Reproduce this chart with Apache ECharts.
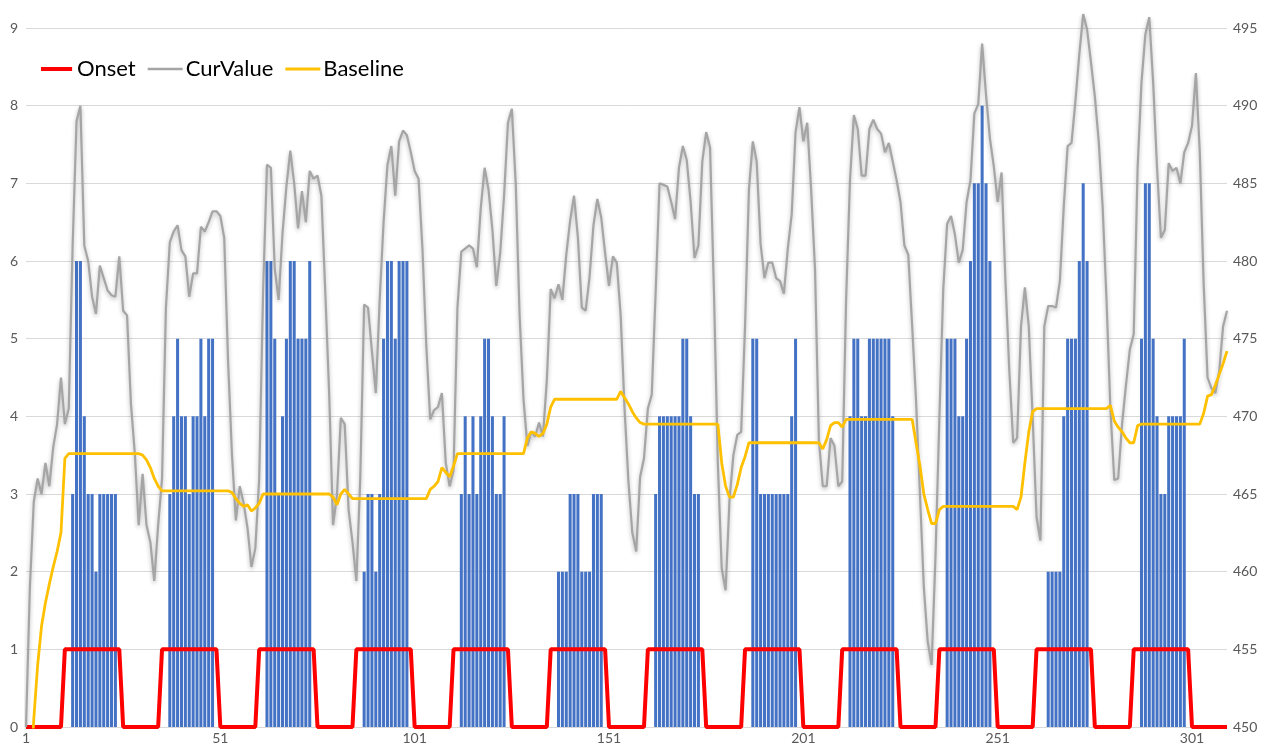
<!DOCTYPE html>
<html>
<head>
<meta charset="utf-8">
<script src="https://cdn.jsdelivr.net/npm/echarts@6/dist/echarts.min.js"></script>
<style>
  html, body { margin: 0; padding: 0; background: #ffffff; }
  #chart { width: 1271px; height: 745px; }
</style>
</head>
<body>
<div id="chart"></div>
<script>
// Sample index 1..310 along the horizontal axis
const days = Array.from({ length: 310 }, (_, i) => String(i + 1));

// Onset flag (left axis), one row per 25 samples
const onset = [
  0,0,0,0,0,0,0,0,0,0,1,1,1,1,1,1,1,1,1,1,1,1,1,1,1,
  0,0,0,0,0,0,0,0,0,0,1,1,1,1,1,1,1,1,1,1,1,1,1,1,1,
  0,0,0,0,0,0,0,0,0,0,1,1,1,1,1,1,1,1,1,1,1,1,1,1,1,
  0,0,0,0,0,0,0,0,0,0,1,1,1,1,1,1,1,1,1,1,1,1,1,1,1,
  0,0,0,0,0,0,0,0,0,0,1,1,1,1,1,1,1,1,1,1,1,1,1,1,1,
  0,0,0,0,0,0,0,0,0,0,1,1,1,1,1,1,1,1,1,1,1,1,1,1,1,
  0,0,0,0,0,0,0,0,0,0,1,1,1,1,1,1,1,1,1,1,1,1,1,1,1,
  0,0,0,0,0,0,0,0,0,0,1,1,1,1,1,1,1,1,1,1,1,1,1,1,1,
  0,0,0,0,0,0,0,0,0,0,1,1,1,1,1,1,1,1,1,1,1,1,1,1,1,
  0,0,0,0,0,0,0,0,0,0,1,1,1,1,1,1,1,1,1,1,1,1,1,1,1,
  0,0,0,0,0,0,0,0,0,0,1,1,1,1,1,1,1,1,1,1,1,1,1,1,1,
  0,0,0,0,0,0,0,0,0,0,1,1,1,1,1,1,1,1,1,1,1,1,1,1,1,
  0,0,0,0,0,0,0,0,0,0
];

// Event counts drawn as bars (left axis), one row per 25 samples
const counts = [
  0,0,0,0,0,0,0,0,0,0,0,0, 3,6,6,4,3,3,2,3,3,3,3,3, 0,
  0,0,0,0,0,0,0,0,0,0,0,0, 3,4,5,4,4,3,4,4,5,4,5,5, 0,
  0,0,0,0,0,0,0,0,0,0,0,0, 6,6,5,3,4,5,6,6,5,5,5,6, 0,
  0,0,0,0,0,0,0,0,0,0,0,0, 2,3,3,2,3,5,6,6,5,6,6,6, 0,
  0,0,0,0,0,0,0,0,0,0,0,0, 3,4,3,4,3,4,5,5,4,3,3,4, 0,
  0,0,0,0,0,0,0,0,0,0,0,0, 2,2,2,3,3,3,2,2,2,3,3,3, 0,
  0,0,0,0,0,0,0,0,0,0,0,0, 3,4,4,4,4,4,4,5,5,4,3,3, 0,
  0,0,0,0,0,0,0,0,0,0,0,0, 5,5,3,3,3,3,3,3,3,3,4,5, 0,
  0,0,0,0,0,0,0,0,0,0,0,0, 4,5,5,4,4,5,5,5,5,5,5,4, 0,
  0,0,0,0,0,0,0,0,0,0,0,0, 5,5,5,4,4,5,6,7,7,8,7,6, 0,
  0,0,0,0,0,0,0,0,0,0,0,0,0, 2,2,2,2,4,5,5,5,6,7,6, 0,
  0,0,0,0,0,0,0,0,0,0,0,0, 5,7,7,5,4,3,3,4,4,4,4,5, 0,
  0,0,0,0,0,0,0,0,0,0
];

// Current value (right axis), ten samples per row
const curValue = [
  450, 459, 464.5, 466, 465, 467, 465.5, 468, 469.5, 472.5,
  469.5, 470.5, 481, 489, 490, 481, 480, 477.7, 476.6, 479.7,
  478.9, 478.1, 477.8, 477.7, 480.3, 476.8, 476.5, 470.8, 467.6, 463,
  466.3, 463, 461.9, 459.4, 463, 466, 477, 481.2, 481.9, 482.3,
  480.7, 480.3, 477.7, 479.2, 479.2, 482.2, 481.9, 482.5, 483.2, 483.2,
  482.9, 481.5, 473.5, 467.5, 463.3, 465.5, 464.4, 462.8, 460.3, 461.5,
  466, 478, 486.2, 486, 479.5, 477.5, 481.8, 484.8, 487.1, 485,
  482.1, 484.5, 482.5, 485.8, 485.3, 485.5, 484.2, 478, 471.5, 463,
  464.9, 469.9, 469.5, 464, 461.9, 459.4, 466, 477.2, 477, 474.2,
  471.5, 477.5, 482.5, 486.2, 487.4, 484.2, 487.7, 488.4, 488.1, 487,
  485.8, 485.3, 480.8, 474.5, 469.8, 470.4, 470.6, 471.5, 467, 465.5,
  466.5, 477, 480.6, 480.8, 481, 480.8, 479.6, 483.4, 486, 484.6,
  482, 478.4, 480.5, 484.2, 488.9, 489.8, 485, 476.5, 471.1, 468.1,
  469, 468.7, 469.6, 468.7, 472.3, 478.2, 477.6, 478.5, 477.5, 480.4,
  482.6, 484.2, 481.5, 477, 476.8, 479, 482.3, 484, 482.8, 480.5,
  478.4, 480.3, 479.9, 476.5, 470.5, 465.8, 462.5, 461.3, 466.1, 467.3,
  470.5, 471.4, 478, 485, 484.9, 484.8, 483.8, 482.7, 486, 487.4,
  486.5, 483.8, 480.2, 481, 486.4, 488.3, 487.3, 478, 467, 460.2,
  458.8, 464.6, 467.5, 468.8, 469, 475.8, 484.6, 487.7, 486.4, 481.1,
  478.9, 479.9, 479.9, 478.9, 478.7, 477.9, 480.8, 483, 488.3, 489.9,
  487.7, 488.9, 484.6, 479.5, 468.5, 465.5, 465.5, 468.6, 468.1, 465.5,
  465.8, 477.5, 485.2, 489.4, 488.5, 485.5, 485.5, 488.5, 489.1, 488.5,
  488.2, 487, 487.6, 486.4, 485.2, 483.8, 481, 480.4, 475.8, 471,
  465, 459, 455.5, 454, 461, 469.9, 478.2, 482.4, 482.9, 481.7,
  479.9, 480.7, 483.8, 485.2, 489.5, 490.1, 494, 490.7, 487.9, 486.1,
  483.8, 485.7, 478.7, 472.9, 468.3, 468.6, 475.8, 478.3, 475.8, 469.9,
  463.5, 462, 475.8, 477.1, 477.1, 477, 478.7, 483.5, 487.4, 487.6,
  490.3, 493.3, 495.9, 494.9, 492.8, 490.6, 487.7, 483.5, 477.5, 470.5,
  465.9, 466, 469.5, 472, 474.3, 475.3, 486, 491.5, 494.6, 495.7,
  491.5, 486, 481.5, 482, 486.3, 485.8, 486, 485, 487, 487.6,
  488.7, 492.1, 487, 478.5, 472.5, 471.8, 471.5, 472.9, 475.8, 476.8
];

// Baseline (right axis), ten samples per row
const baseline = [
  440, 446, 450.5, 454, 456.5, 458, 459.2, 460.3, 461.3, 462.5,
  467.3, 467.6, 467.6, 467.6, 467.6, 467.6, 467.6, 467.6, 467.6, 467.6,
  467.6, 467.6, 467.6, 467.6, 467.6, 467.6, 467.6, 467.6, 467.6, 467.6,
  467.5, 467.2, 466.7, 466, 465.5, 465.2, 465.2, 465.2, 465.2, 465.2,
  465.2, 465.2, 465.2, 465.2, 465.2, 465.2, 465.2, 465.2, 465.2, 465.2,
  465.2, 465.2, 465.2, 465.1, 464.7, 464.4, 464.2, 464.3, 463.9, 464.1,
  464.4, 465, 465, 465, 465, 465, 465, 465, 465, 465,
  465, 465, 465, 465, 465, 465, 465, 465, 465, 464.8,
  464.3, 465, 465.3, 465, 464.7, 464.7, 464.7, 464.7, 464.7, 464.7,
  464.7, 464.7, 464.7, 464.7, 464.7, 464.7, 464.7, 464.7, 464.7, 464.7,
  464.7, 464.7, 464.7, 464.7, 465.3, 465.5, 465.8, 466.7, 466.4, 466.1,
  466.8, 467.6, 467.6, 467.6, 467.6, 467.6, 467.6, 467.6, 467.6, 467.6,
  467.6, 467.6, 467.6, 467.6, 467.6, 467.6, 467.6, 467.6, 467.6, 468.6,
  469, 468.9, 468.7, 468.9, 469.5, 470.6, 471.1, 471.1, 471.1, 471.1,
  471.1, 471.1, 471.1, 471.1, 471.1, 471.1, 471.1, 471.1, 471.1, 471.1,
  471.1, 471.1, 471.1, 471.6, 471.2, 470.8, 470.3, 469.9, 469.6, 469.5,
  469.5, 469.5, 469.5, 469.5, 469.5, 469.5, 469.5, 469.5, 469.5, 469.5,
  469.5, 469.5, 469.5, 469.5, 469.5, 469.5, 469.5, 469.5, 469.5, 467,
  465.5, 464.8, 464.8, 465.6, 466.7, 467.4, 468.3, 468.3, 468.3, 468.3,
  468.3, 468.3, 468.3, 468.3, 468.3, 468.3, 468.3, 468.3, 468.3, 468.3,
  468.3, 468.3, 468.3, 468.3, 468.3, 467.9, 468.5, 469.4, 469.6, 469.6,
  469.3, 469.8, 469.8, 469.8, 469.8, 469.8, 469.8, 469.8, 469.8, 469.8,
  469.8, 469.8, 469.8, 469.8, 469.8, 469.8, 469.8, 469.8, 469.8, 468.3,
  466.8, 465, 464, 463.1, 463.1, 464, 464.2, 464.2, 464.2, 464.2,
  464.2, 464.2, 464.2, 464.2, 464.2, 464.2, 464.2, 464.2, 464.2, 464.2,
  464.2, 464.2, 464.2, 464.2, 464.2, 464, 464.8, 467, 469, 470.3,
  470.5, 470.5, 470.5, 470.5, 470.5, 470.5, 470.5, 470.5, 470.5, 470.5,
  470.5, 470.5, 470.5, 470.5, 470.5, 470.5, 470.5, 470.5, 470.5, 470.7,
  469.7, 469.3, 469, 468.6, 468.3, 468.3, 469.4, 469.5, 469.5, 469.5,
  469.5, 469.5, 469.5, 469.5, 469.5, 469.5, 469.5, 469.5, 469.5, 469.5,
  469.5, 469.5, 469.5, 470.2, 471.3, 471.4, 472, 472.7, 473.4, 474.2
];

// Axis ranges
const leftRange = { min: 0, max: 9, interval: 1 };
const rightRange = { min: 450, max: 495, interval: 5 };

const FONT = 'Lato, "Open Sans", sans-serif';
const chart = echarts.init(document.getElementById('chart'), null, { renderer: 'canvas' });

chart.setOption({
  animation: false,
  backgroundColor: '#ffffff',
  textStyle: { fontFamily: FONT },
  grid: { left: 26, right: 44, top: 28, bottom: 17, containLabel: false },
  legend: {
    data: [
      { name: 'Onset', icon: 'path://M0,0H35V4.5H0Z' },
      { name: 'CurValue', icon: 'path://M0,0H35V2.6H0Z' },
      { name: 'Baseline', icon: 'path://M0,0H35V3H0Z' }
    ],
    left: 36,
    top: 53,
    itemWidth: 35,
    itemHeight: 4,
    itemGap: 12,
    textStyle: { fontSize: 22, color: '#000000', fontFamily: FONT, padding: [0, 0, 0, -2] }
  },
  xAxis: {
    type: 'category',
    data: days,
    boundaryGap: false,
    axisLine: { show: true, lineStyle: { color: '#D9D9D9' } },
    axisTick: { show: false },
    splitLine: { show: false },
    axisLabel: { interval: 49, color: '#595959', fontSize: 14, margin: 4, fontFamily: FONT }
  },
  yAxis: [
    {
      type: 'value',
      min: leftRange.min, max: leftRange.max, interval: leftRange.interval,
      axisLine: { show: false }, axisTick: { show: false },
      splitLine: { show: true, lineStyle: { color: '#D9D9D9', width: 1 } },
      axisLabel: { color: '#595959', fontSize: 14, margin: 8, fontFamily: FONT }
    },
    {
      type: 'value',
      min: rightRange.min, max: rightRange.max, interval: rightRange.interval,
      axisLine: { show: false }, axisTick: { show: false },
      splitLine: { show: false },
      axisLabel: { color: '#595959', fontSize: 14, margin: 6, fontFamily: FONT }
    }
  ],
  series: [
    {
      name: 'Count',
      type: 'bar',
      yAxisIndex: 0,
      data: counts,
      barWidth: '78%',
      itemStyle: { color: '#4472C4' },
      z: 1
    },
    {
      name: 'Onset',
      type: 'line',
      yAxisIndex: 0,
      data: onset,
      symbol: 'none',
      lineStyle: { color: '#FF0000', width: 4 },
      itemStyle: { color: '#FF0000' },
      z: 2
    },
    {
      name: 'CurValue',
      type: 'line',
      yAxisIndex: 1,
      data: curValue,
      symbol: 'none',
      clip: false,
      lineStyle: {
        color: '#A5A5A5', width: 2.2,
        shadowColor: 'rgba(0,0,0,0.28)', shadowBlur: 4, shadowOffsetY: 2
      },
      itemStyle: { color: '#A5A5A5' },
      z: 3
    },
    {
      name: 'Baseline',
      type: 'line',
      yAxisIndex: 1,
      data: baseline,
      symbol: 'none',
      lineStyle: { color: '#FFC000', width: 2.8 },
      itemStyle: { color: '#FFC000' },
      z: 4
    }
  ]
});
</script>
</body>
</html>
